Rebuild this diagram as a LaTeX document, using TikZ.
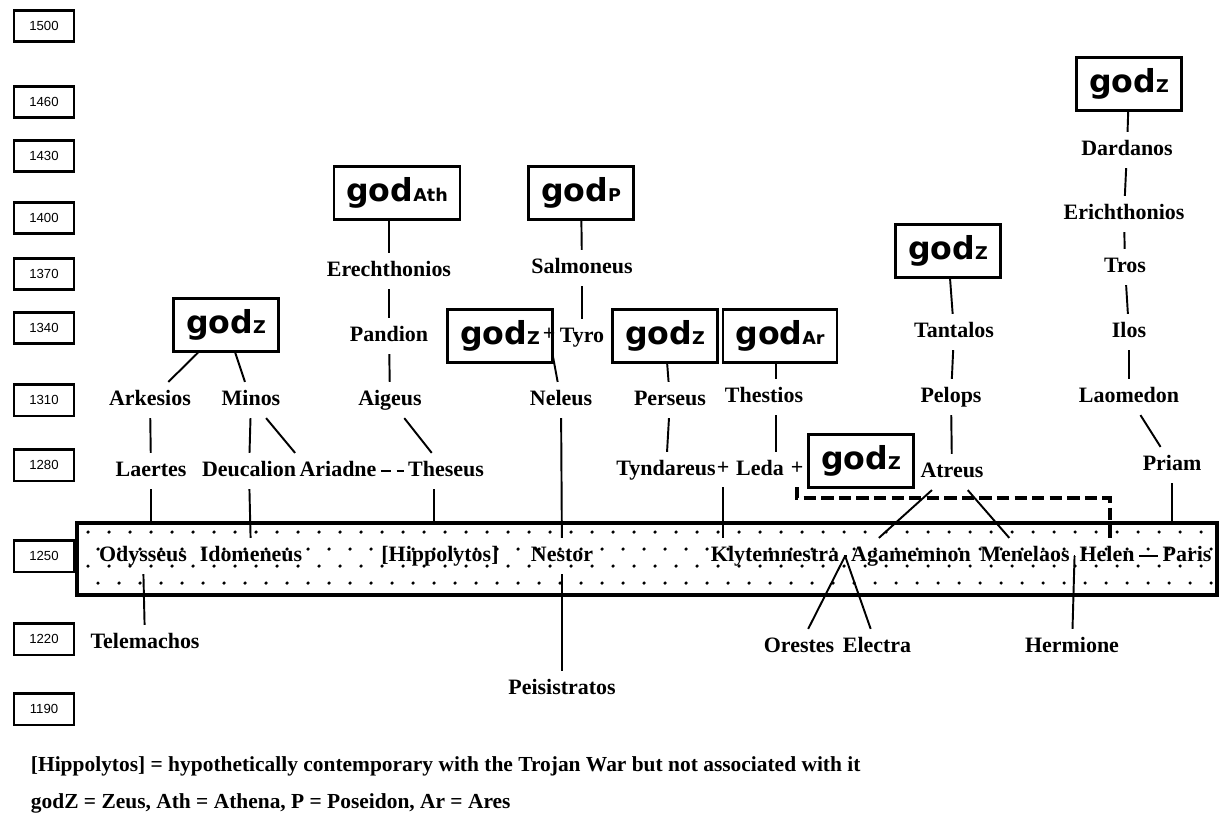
\documentclass[tikz,border=0pt]{standalone}
\usepackage{fontspec}
\setmainfont{Liberation Serif}
\newfontfamily\godfont{DejaVu Sans}
\newfontfamily\yearfont{Liberation Sans}
\usetikzlibrary{calc}
\newcommand{\gsub}[1]{{\fontsize{10}{11}\selectfont #1}}

\begin{document}
\begin{tikzpicture}[x=0.02cm, y=-0.02cm, line width=1.1pt,
	nm/.style={font=\bfseries\fontsize{12.5}{14}\selectfont, inner xsep=2pt, inner ysep=4pt, text height=9pt, text depth=2.5pt},
	godbox/.style={draw, line width=1.6pt, font=\godfont\bfseries\fontsize{18}{20}\selectfont, inner xsep=7pt, minimum height=30pt},
	yearbox/.style={draw, line width=1.5pt, font=\yearfont\fontsize{7.5}{9}\selectfont, minimum width=34pt, minimum height=18pt},
	legend/.style={anchor=west, font=\bfseries\fontsize{12.2}{14}\selectfont, inner sep=0pt}]

	\useasboundingbox (0,0) rectangle (1219,821);

	\foreach \yr/\yy in {1500/26,1460/102,1430/156,1400/218,1370/274,1340/328,1310/400,1280/465,1250/556,1220/639,1190/709}
		\node (y\yr) [yearbox] at (44,\yy) {\yr};

	\draw[line width=2pt] (77,523) rectangle (1217,595);
	\begin{scope}
		\clip (79,525) rectangle (1215,593);
		\foreach \r/\o in {532/0,549/10,566/0,583/10}
			\foreach \c in {0,...,55}
				\fill (88+\o+21*\c,\r) circle (1pt);
	\end{scope}
	\coordinate (bandtop) at (0,523);

	\node (godz1) [godbox] at (226,325) {god\gsub{Z}};
	\node (godath) [godbox] at (397,193) {god\gsub{Ath}};
	\node (godp) [godbox] at (581,193) {god\gsub{P}};
	\node (godz2) [godbox] at (500,336) {god\gsub{Z}};
	\node (godz3) [godbox] at (665,336) {god\gsub{Z}};
	\node (godar) [godbox] at (780,336) {god\gsub{Ar}};
	\node (godz4) [godbox] at (861,461) {god\gsub{Z}};
	\node (godz5) [godbox] at (948,251) {god\gsub{Z}};
	\node (godz6) [godbox] at (1129,84) {god\gsub{Z}};

	\node (arkesios) [nm] at (150,400) {Arkesios};
	\node (minos) [nm] at (251,400) {Minos};
	\node (laertes) [nm] at (151,471) {Laertes};
	\node (deucalion) [nm] at (249,471) {Deucalion};
	\node (ariadne) [nm] at (338,471) {Ariadne};
	\node (theseus) [nm] at (446,471) {Theseus};
	\node (erech) [nm] at (389,271) {Erechthonios};
	\node (pandion) [nm] at (389,336) {Pandion};
	\node (aigeus) [nm] at (390,400) {Aigeus};
	\node (salmoneus) [nm] at (582,268) {Salmoneus};
	\node (tyro) [nm] at (582,337) {Tyro};
	\node (plusc) [nm] at (549,335) {+};
	\node (neleus) [nm] at (561,400) {Neleus};
	\node (perseus) [nm] at (670,400) {Perseus};
	\node (thestios) [nm] at (764,397) {Thestios};
	\node (tyndareus) [nm] at (666,470) {Tyndareus};
	\node (plusa) [nm] at (723,469) {+};
	\node (leda) [nm] at (760,470) {Leda};
	\node (plusb) [nm] at (797,469) {+};
	\node (tantalos) [nm] at (954,332) {Tantalos};
	\node (pelops) [nm] at (951,397) {Pelops};
	\node (atreus) [nm] at (952,472) {Atreus};
	\node (dardanos) [nm] at (1127,150) {Dardanos};
	\node (erich) [nm] at (1124,214) {Erichthonios};
	\node (tros) [nm] at (1125,267) {Tros};
	\node (ilos) [nm] at (1129,332) {Ilos};
	\node (laomedon) [nm] at (1129,397) {Laomedon};
	\node (priam) [nm] at (1172,465) {Priam};

	\node (odysseus) [nm] at (143,556) {Odysseus};
	\node (idomeneus) [nm] at (251,556) {Idomeneus};
	\node (hippolytos) [nm] at (440,556) {[Hippolytos]};
	\node (nestor) [nm] at (562,556) {Nestor};
	\node (klyt) [nm] at (775,556) {Klytemnestra};
	\node (agam) [nm] at (911,556) {Agamemnon};
	\node (menelaos) [nm] at (1025,556) {Menelaos};
	\node (helen) [nm] at (1107,556) {Helen};
	\node (paris) [nm] at (1187,556) {Paris};

	\node (telemachos) [nm] at (145,643) {Telemachos};
	\node (peisistratos) [nm] at (562,689) {Peisistratos};
	\node (orestes) [nm] at (799,647) {Orestes};
	\node (electra) [nm] at (877,647) {Electra};
	\node (hermione) [nm] at (1072,647) {Hermione};

	\draw (godz1) -- (arkesios) -- (laertes);
	\draw (laertes) -- (laertes |- bandtop);
	\draw (godz1) -- (minos) -- (deucalion) -- (idomeneus);
	\draw (minos) -- (ariadne.north west);
	\draw[dash pattern=on 6pt off 3pt] (ariadne) -- (theseus);
	\draw (aigeus) -- (theseus);
	\draw ([xshift=-7pt]theseus.south) -- ([xshift=-7pt]theseus.south |- bandtop);
	\draw (erech |- godath.south) -- (erech) -- (pandion) -- (aigeus);
	\draw (godp) -- (salmoneus) -- (tyro);
	\draw (plusc) -- (neleus) -- (nestor) -- (peisistratos);
	\draw (godz3) -- (perseus) -- (tyndareus);
	\coordinate (tl) at (776,0);
	\draw (tl |- godar.south) -- (tl |- thestios.north);
	\draw (tl |- thestios.south) -- (tl |- leda.north);
	\draw (plusa) -- (plusa |- klyt.north);
	\coordinate (hc) at (1110,498);
	\draw[line width=1.8pt, dash pattern=on 7pt off 3pt] (plusb) |- (hc) -- (hc |- helen.north);
	\draw (godz5) -- (tantalos) -- (pelops) -- (atreus);
	\draw (atreus) -- ($(agam.north west)!0.25!(agam.north east)$);
	\draw (atreus) -- (menelaos);
	\draw (klyt) -- (agam);
	\coordinate (ka) at ($(klyt.east)!0.5!(agam.west)$);
	\draw (ka) -- (orestes);
	\draw (ka) -- (electra);
	\draw (menelaos) -- (helen);
	\coordinate (mh) at ($(menelaos.east)!0.5!(helen.west)$);
	\draw (mh) -- (hermione);
	\draw (helen) -- (paris);
	\draw (godz6) -- (dardanos) -- (erich) -- (tros) -- (ilos) -- (laomedon) -- (priam);
	\draw (priam) -- (priam |- bandtop);
	\draw (odysseus) -- (telemachos);

	\node (leg1) [legend] at (30,766) {[Hippolytos] = hypothetically contemporary with the Trojan War but not associated with it};
	\node (leg2) [legend] at (30,803) {godZ = Zeus, Ath = Athena, P = Poseidon, Ar = Ares};
\end{tikzpicture}
\end{document}
